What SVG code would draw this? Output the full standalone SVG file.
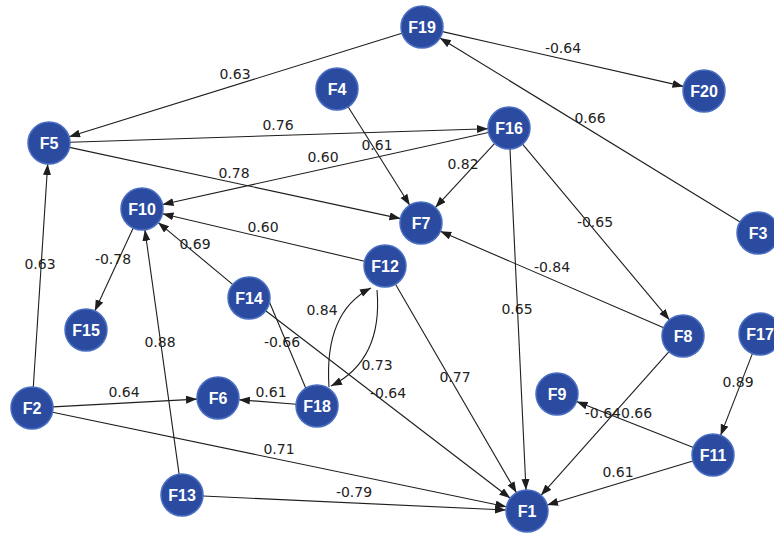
<svg xmlns="http://www.w3.org/2000/svg" width="774" height="534" viewBox="0 0 774 534">
<style>
.e{stroke:#1e1e1e;stroke-width:1.1;fill:none;marker-end:url(#ah)}
.l{font-family:"DejaVu Sans",Verdana,sans-serif;font-size:14px;fill:#222;text-anchor:middle}
.n circle{fill:#2A4B9F;stroke:#4A6EC2;stroke-width:1.5}
.n text{font-family:"Liberation Sans",Arial,sans-serif;font-size:16px;font-weight:bold;fill:#fff;text-anchor:middle}
</style>
<defs>
<marker id="ah" markerUnits="userSpaceOnUse" markerWidth="12" markerHeight="9" refX="11" refY="4" orient="auto">
<path d="M0,0 L11,4 L0,8 z" fill="#1e1e1e"/>
</marker>
</defs>
<rect width="774" height="534" fill="#fff"/>
<g id="connectors">
<line class="e" x1="401.9" y1="33.2" x2="69.1" y2="136.8"/>
<line class="e" x1="442.5" y1="31.6" x2="683.5" y2="86.4"/>
<line class="e" x1="740.1" y1="222.0" x2="439.9" y2="38.0"/>
<line class="e" x1="70.0" y1="142.3" x2="488.0" y2="128.7"/>
<line class="e" x1="69.5" y1="147.4" x2="400.5" y2="218.6"/>
<line class="e" x1="348.1" y1="106.8" x2="409.8" y2="205.2"/>
<line class="e" x1="488.5" y1="132.5" x2="162.5" y2="204.5"/>
<line class="e" x1="494.7" y1="143.4" x2="435.3" y2="207.6"/>
<line class="e" x1="522.5" y1="144.1" x2="669.5" y2="319.9"/>
<line class="e" x1="510.0" y1="149.0" x2="526.0" y2="490.0"/>
<line class="e" x1="364.6" y1="261.2" x2="162.5" y2="213.8"/>
<line class="e" x1="232.9" y1="284.6" x2="158.1" y2="222.4"/>
<line class="e" x1="133.2" y1="228.1" x2="94.8" y2="310.9"/>
<line class="e" x1="179.1" y1="474.2" x2="144.9" y2="229.8"/>
<line class="e" x1="33.3" y1="387.0" x2="47.7" y2="164.0"/>
<line class="e" x1="53.0" y1="406.9" x2="197.0" y2="399.1"/>
<line class="e" x1="52.6" y1="412.3" x2="506.4" y2="506.7"/>
<line class="e" x1="203.0" y1="496.0" x2="506.0" y2="510.0"/>
<line class="e" x1="296.1" y1="404.3" x2="238.9" y2="399.7"/>
<line class="e" x1="305.8" y1="388.2" x2="260.2" y2="280.2"/>
<line class="e" x1="265.7" y1="310.8" x2="510.3" y2="498.2"/>
<line class="e" x1="395.5" y1="284.2" x2="516.5" y2="492.8"/>
<line class="e" x1="663.7" y1="327.7" x2="440.3" y2="231.3"/>
<line class="e" x1="669.0" y1="351.7" x2="541.0" y2="495.3"/>
<line class="e" x1="693.4" y1="447.4" x2="576.6" y2="401.6"/>
<line class="e" x1="752.4" y1="353.6" x2="720.6" y2="435.4"/>
<line class="e" x1="692.9" y1="461.0" x2="547.1" y2="505.0"/>
<path class="e" d="M329,387 Q324,312 371,288"/>
<path class="e" d="M377,290 Q383,360 331,386"/>
</g>
<g id="labels">
<text class="l" x="235" y="79">0.63</text>
<text class="l" x="563" y="53">-0.64</text>
<text class="l" x="590" y="123">0.66</text>
<text class="l" x="278" y="130">0.76</text>
<text class="l" x="377" y="150">0.61</text>
<text class="l" x="323" y="162">0.60</text>
<text class="l" x="234" y="178">0.78</text>
<text class="l" x="463" y="169">0.82</text>
<text class="l" x="595" y="227">-0.65</text>
<text class="l" x="263" y="232">0.60</text>
<text class="l" x="195" y="249">0.69</text>
<text class="l" x="552" y="272">-0.84</text>
<text class="l" x="113" y="264">-0.78</text>
<text class="l" x="40" y="269">0.63</text>
<text class="l" x="160" y="347">0.88</text>
<text class="l" x="322" y="315">0.84</text>
<text class="l" x="282" y="347">-0.66</text>
<text class="l" x="377" y="370">0.73</text>
<text class="l" x="388" y="398">-0.64</text>
<text class="l" x="455" y="382">0.77</text>
<text class="l" x="517" y="314">0.65</text>
<text class="l" x="124" y="397">0.64</text>
<text class="l" x="271" y="397">0.61</text>
<text class="l" x="279" y="454">0.71</text>
<text class="l" x="354" y="497">-0.79</text>
<text class="l" x="738" y="387">0.89</text>
<text class="l" x="621" y="418" style="text-anchor:end">-0.64</text>
<text class="l" x="621" y="418" style="text-anchor:start">0.66</text>
<text class="l" x="618" y="477">0.61</text>
</g>
<g id="F1" class="n"><circle cx="527" cy="511" r="21"/><text x="527" y="517">F1</text></g>
<g id="F2" class="n"><circle cx="32" cy="408" r="21"/><text x="32" y="414">F2</text></g>
<g id="F3" class="n"><circle cx="758" cy="233" r="21"/><text x="758" y="239">F3</text></g>
<g id="F4" class="n"><circle cx="337" cy="89" r="21"/><text x="337" y="95">F4</text></g>
<g id="F5" class="n"><circle cx="49" cy="143" r="21"/><text x="49" y="149">F5</text></g>
<g id="F6" class="n"><circle cx="218" cy="398" r="21"/><text x="218" y="404">F6</text></g>
<g id="F7" class="n"><circle cx="421" cy="223" r="21"/><text x="421" y="229">F7</text></g>
<g id="F8" class="n"><circle cx="683" cy="336" r="21"/><text x="683" y="342">F8</text></g>
<g id="F9" class="n"><circle cx="557" cy="394" r="21"/><text x="557" y="400">F9</text></g>
<g id="F10" class="n"><circle cx="142" cy="209" r="21"/><text x="142" y="215">F10</text></g>
<g id="F11" class="n"><circle cx="713" cy="455" r="21"/><text x="713" y="461">F11</text></g>
<g id="F12" class="n"><circle cx="385" cy="266" r="21"/><text x="385" y="272">F12</text></g>
<g id="F13" class="n"><circle cx="182" cy="495" r="21"/><text x="182" y="501">F13</text></g>
<g id="F14" class="n"><circle cx="249" cy="298" r="21"/><text x="249" y="304">F14</text></g>
<g id="F15" class="n"><circle cx="86" cy="330" r="21"/><text x="86" y="336">F15</text></g>
<g id="F16" class="n"><circle cx="509" cy="128" r="21"/><text x="509" y="134">F16</text></g>
<g id="F17" class="n"><circle cx="760" cy="334" r="21"/><text x="760" y="340">F17</text></g>
<g id="F18" class="n"><circle cx="317" cy="406" r="21"/><text x="317" y="412">F18</text></g>
<g id="F19" class="n"><circle cx="422" cy="27" r="21"/><text x="422" y="33">F19</text></g>
<g id="F20" class="n"><circle cx="704" cy="91" r="21"/><text x="704" y="97">F20</text></g>
</svg>
